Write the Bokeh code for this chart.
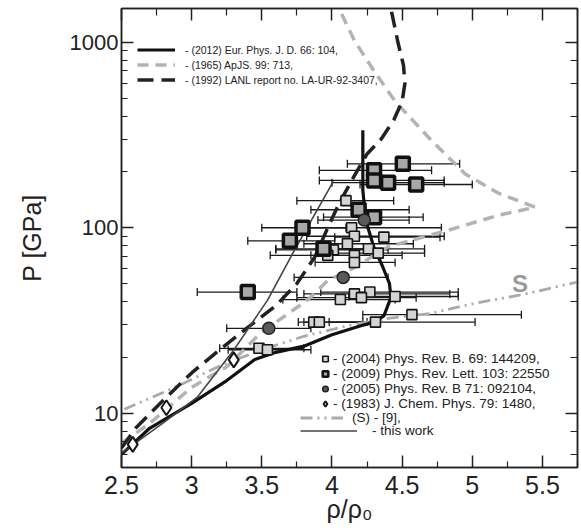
from bokeh.plotting import figure
from bokeh.models import (ColumnDataSource, Whisker, TeeHead, FixedTicker, LinearAxis,
                          LogAxis, Legend, LegendItem, BasicTickFormatter, CustomJSTickFormatter)
from bokeh.embed import file_html
from bokeh.resources import INLINE
from bokeh.core.properties import value

# ---------------- data ----------------
x_ticks = [2.5, 3.0, 3.5, 4.0, 4.5, 5.0, 5.5]
x_tick_labels = ["2.5", "3", "3.5", "4", "4.5", "5", "5.5"]
x_minor = [2.75, 3.25, 3.75, 4.25, 4.75, 5.25, 5.75]
y_ticks = [10, 100, 1000]
y_tick_labels = ["10", "100", "1000"]

# (2012) Eur. Phys. J. D. 66: 104  (thick solid)
eur_x = [2.5, 2.7, 3.0, 3.25, 3.45, 3.6, 3.8, 4.0, 4.2, 4.3, 4.37, 4.42, 4.41, 4.36, 4.30, 4.24, 4.22, 4.22, 4.22]
eur_p = [6.0, 8.3, 11.3, 15, 19.5, 21.3, 23, 26.5, 29.5, 31, 33.5, 42, 50, 62, 78, 110, 160, 230, 335]

# (1965) ApJS. 99: 713  (gray dashed)
apj_x = [2.5, 2.7, 3.0, 3.25, 3.49, 3.83, 3.97, 4.16, 4.4, 4.6, 4.83, 5.19, 5.45, 5.19, 4.95, 4.71, 4.45, 4.30, 4.16, 4.05]
apj_p = [6.9, 8.8, 13.8, 17.8, 27, 41, 52, 61, 79, 87, 97, 117, 129, 153, 195, 295, 480, 700, 1020, 1520]

# (1992) LANL report  (black dashed)
lanl_x = [2.5, 2.6, 2.8, 3.0, 3.2, 3.4, 3.6, 3.75, 3.88, 3.97, 4.05, 4.15, 4.25, 4.35, 4.44, 4.50, 4.52, 4.51, 4.47, 4.42]
lanl_p = [6.5, 8.3, 11.8, 16.5, 22, 29, 38, 50, 70, 100, 135, 185, 250, 300, 380, 480, 600, 750, 1000, 1520]

# (S) - [9]  (gray dash-dot-dot)
s_x = [2.52, 2.9, 3.2, 3.5, 3.8, 4.1, 4.4, 4.7, 5.0, 5.38, 5.75]
s_p = [10.5, 14, 18, 22, 26, 29.5, 32.5, 34.5, 38.9, 44, 51]

# this work (thin solid)
tw_x = [2.5, 2.8, 3.04, 3.3, 3.54, 3.73, 4.01]
tw_p = [6.1, 8.9, 12.2, 21.9, 40.6, 75, 178]

# (2004) Phys. Rev. B. 69: 144209  (open squares)
d04_x = [4.10, 4.14, 4.16, 4.37, 4.11, 4.01, 3.97, 4.16, 4.26, 4.33, 4.16, 4.16, 4.27, 4.06, 4.21, 4.45, 3.87, 3.91, 4.31, 4.57, 3.48, 3.54]
d04_p = [140, 100, 90, 89, 82, 76, 71, 71, 77, 73, 65, 44, 45, 41, 42, 42.6, 31, 31, 31, 34, 22.4, 22]
d04_lo = [3.75, 3.80, 3.82, 4.02, 3.80, 3.60, 3.56, 3.85, 3.93, 4.00, 3.88, 3.80, 3.92, 3.65, 3.75, 4.12, 3.76, 3.80, 3.98, 4.22, 3.20, 3.26]
d04_hi = [4.44, 4.78, 4.80, 4.77, 4.58, 4.40, 4.35, 4.50, 4.66, 4.66, 4.45, 4.84, 4.90, 4.45, 4.60, 4.90, 4.22, 4.25, 5.02, 5.35, 3.80, 3.85]

# (2009) Phys. Rev. Lett. 103: 22550  (bold squares)
d09_x = [4.505, 4.30, 4.30, 4.40, 4.60, 4.19, 4.30, 3.79, 3.70, 3.94, 3.40]
d09_p = [221, 204, 180, 175, 171, 125, 114, 100, 85, 77, 45]
d09_lo = [4.11, 3.91, 3.91, 4.00, 4.20, 3.85, 3.94, 3.50, 3.40, 3.60, 3.04]
d09_hi = [4.91, 4.71, 4.80, 4.80, 5.00, 4.55, 4.65, 4.10, 4.02, 4.30, 3.75]

# (2005) Phys. Rev. B 71: 092104  (circles)
d05_x = [4.23, 4.08, 3.55]
d05_p = [110, 54, 28.7]
d05_lo = [3.90, 3.73, 3.25]
d05_hi = [4.55, 4.40, 3.85]

# (1983) J. Chem. Phys. 79: 1480  (diamonds)
d83_x = [3.30, 2.82, 2.58]
d83_p = [19.4, 10.7, 6.8]

legend_top = ["- (2012) Eur. Phys. J. D. 66: 104,", "- (1965) ApJS. 99: 713,",
              "- (1992) LANL report no. LA-UR-92-3407,"]
legend_pts = ["- (2004) Phys. Rev. B. 69: 144209,", "- (2009) Phys. Rev. Lett. 103: 22550",
              "- (2005) Phys. Rev. B 71: 092104,", "- (1983) J. Chem. Phys. 79: 1480,"]
legend_s = "(S) - [9],"
legend_tw = "- this work"
s_label = "S"
x_title = "ρ/ρ₀"
y_title = "P [GPa]"

# ---------------- figure ----------------
FONT = "Liberation Sans"

p = figure(width=581, height=530, x_range=(2.5, 5.75), y_range=(5.1, 1520),
           y_axis_type="log", output_backend="svg", toolbar_location=None,
           min_border_left=121, min_border_right=4, min_border_top=8, min_border_bottom=63)
p.background_fill_color = "white"
p.border_fill_color = "white"
p.outline_line_color = "#222222"
p.outline_line_width = 1.5
p.xgrid.visible = False
p.ygrid.visible = False

xax = p.xaxis[0]
xax.ticker = FixedTicker(ticks=x_ticks, minor_ticks=x_minor)
xax.major_label_overrides = dict(zip(x_ticks, x_tick_labels))
yax = p.yaxis[0]
yax.formatter = BasicTickFormatter()
yax.major_label_overrides = dict(zip([float(v) for v in y_ticks], y_tick_labels))

for ax, fs in ((xax, "25px"), (yax, "22px")):
    ax.major_tick_in = 12
    ax.major_tick_out = 0
    ax.minor_tick_in = 6
    ax.minor_tick_out = 0
    ax.axis_line_color = "#222222"
    ax.axis_line_width = 1.5
    ax.major_tick_line_color = "#222222"
    ax.minor_tick_line_color = "#222222"
    ax.major_tick_line_width = 1.5
    ax.minor_tick_line_width = 1.2
    ax.major_label_text_font = FONT
    ax.major_label_text_font_size = fs
    ax.major_label_text_color = "#222222"
    ax.axis_label_text_font = FONT
    ax.axis_label_text_font_size = "25px"
    ax.axis_label_text_font_style = "normal"
    ax.axis_label_text_color = "#222222"

xax.axis_label = x_title
xax.major_label_standoff = 8
xax.axis_label_standoff = -2
yax.axis_label = y_title
yax.major_label_standoff = 3
yax.axis_label_standoff = 21

blank = CustomJSTickFormatter(code="return ''")
top_ax = LinearAxis(ticker=FixedTicker(ticks=x_ticks, minor_ticks=x_minor), formatter=blank)
right_ax = LogAxis(formatter=blank)
for ax in (top_ax, right_ax):
    ax.major_tick_in = 12
    ax.major_tick_out = 0
    ax.minor_tick_in = 7
    ax.minor_tick_out = 0
    ax.major_label_standoff = 0
    ax.axis_line_color = "#222222"
    ax.axis_line_width = 1.5
    ax.major_tick_line_color = "#222222"
    ax.minor_tick_line_color = "#222222"
    ax.major_tick_line_width = 1.5
    ax.minor_tick_line_width = 1.2
p.add_layout(top_ax, "above")
p.add_layout(right_ax, "right")

# ---------------- error bars ----------------
def whisk(xs, ps, lo, hi):
    src = ColumnDataSource(dict(x=xs, p=ps, lo=lo, hi=hi))
    w = Whisker(source=src, base="p", lower="lo", upper="hi", dimension="width",
                line_color="#1a1a1a", line_width=1.3, level="underlay",
                lower_head=TeeHead(size=8, line_color="#1a1a1a", line_width=1.3),
                upper_head=TeeHead(size=8, line_color="#1a1a1a", line_width=1.3))
    p.add_layout(w)
    return src

s04 = whisk(d04_x, d04_p, d04_lo, d04_hi)
s09 = whisk(d09_x, d09_p, d09_lo, d09_hi)
s05 = whisk(d05_x, d05_p, d05_lo, d05_hi)

# ---------------- curves ----------------
r_apj = p.line(apj_x, apj_p, line_color="#b3b3b3", line_width=3.5, line_dash="11 7")
r_s = p.line(s_x, s_p, line_color="#aaaaaa", line_width=2.8, line_dash="12 5 2 5 2 5")
r_lanl = p.line(lanl_x, lanl_p, line_color="#222222", line_width=3.5, line_dash="16 8")
r_eur = p.line(eur_x, eur_p, line_color="#111111", line_width=3.2, line_join="round")
r_tw = p.line(tw_x, tw_p, line_color="#444444", line_width=1.6)

p.text(x=[5.34], y=[50], text=[s_label], text_font=value(FONT), text_font_size="24px",
       text_font_style="bold", text_color="#9a9a9a", text_align="center", text_baseline="middle")

# ---------------- markers ----------------
sq_style = dict(marker="square", fill_color="#d4d4d4", line_color="#151515", line_width=1.6)
bsq_style = dict(marker="square", fill_color="#a8a8a8", line_color="#111111")
ci_style = dict(marker="circle", fill_color="#5a5a5a", line_color="#222222", line_width=1.5)
di_style = dict(marker="diamond", fill_color="white", line_color="#151515", line_width=2)

# legend sample glyphs: smaller copies of the first point of each series,
# drawn first so the full-size markers cover them in the plot
g04 = p.scatter(d04_x[:1], d04_p[:1], size=8, **sq_style)
g09 = p.scatter(d09_x[:1], d09_p[:1], size=9, line_width=2.5, **bsq_style)
g05 = p.scatter(d05_x[:1], d05_p[:1], size=9, **ci_style)
g83 = p.scatter(d83_x[:1], d83_p[:1], size=13, **di_style)

p.scatter("x", "p", source=s04, size=10, **sq_style)
p.scatter("x", "p", source=s09, size=13, line_width=3.5, **bsq_style)
p.scatter("x", "p", source=s05, size=12, **ci_style)
p.scatter(d83_x, d83_p, size=15, **di_style)

# ---------------- legends ----------------
def mk_legend(items, loc, gw, gh, fs, standoff):
    lg = Legend(items=items, location=loc, glyph_width=gw, glyph_height=gh,
                label_height=gh, spacing=0, padding=0, margin=0,
                label_standoff=standoff, border_line_alpha=0, background_fill_alpha=0,
                label_text_font=FONT, label_text_font_size=fs, label_text_color="#222222")
    p.add_layout(lg)
    return lg

mk_legend([LegendItem(label=legend_top[0], renderers=[r_eur]),
           LegendItem(label=legend_top[1], renderers=[r_apj]),
           LegendItem(label=legend_top[2], renderers=[r_lanl])],
          (16, 380), 38, 15, "10.5px", 10)

mk_legend([LegendItem(label=legend_pts[0], renderers=[g04]),
           LegendItem(label=legend_pts[1], renderers=[g09]),
           LegendItem(label=legend_pts[2], renderers=[g05]),
           LegendItem(label=legend_pts[3], renderers=[g83])],
          (197, 56), 14, 15, "13.5px", 1)

mk_legend([LegendItem(label=legend_s, renderers=[r_s])],
          (179, 42), 43, 15, "13.5px", 9)

mk_legend([LegendItem(label=legend_tw, renderers=[r_tw])],
          (179, 29), 57, 15, "13.5px", 15)

open("out.html", "w").write(file_html(p, INLINE))
